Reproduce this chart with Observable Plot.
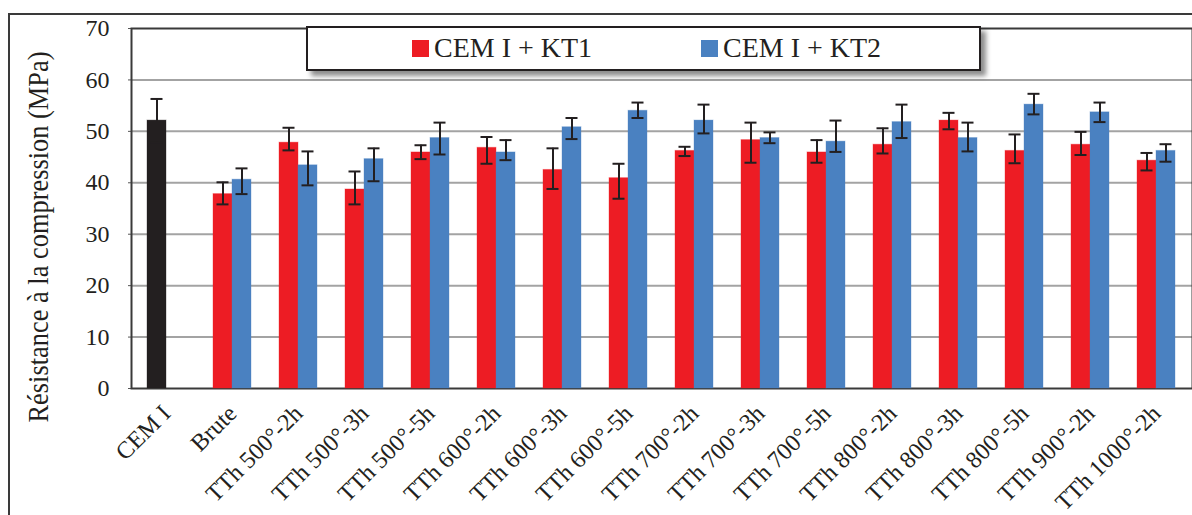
<!DOCTYPE html>
<html>
<head>
<meta charset="utf-8">
<script src="https://cdn.jsdelivr.net/npm/d3@7"></script>
<script src="https://cdn.jsdelivr.net/npm/@observablehq/plot@0.6"></script>
<style>
  html, body { margin: 0; padding: 0; background: #fff; }
  #wrap { position: relative; width: 1192px; height: 515px; overflow: hidden; background: #fff; font-family: "Liberation Serif", "Times New Roman", serif; }
  #outer { position: absolute; left: 8px; top: 13px; width: 1300px; height: 700px; border: 2px solid #3a3a3a; box-sizing: border-box; }
  #base, #chart { position: absolute; left: 0; top: 0; }
  #ytitle { position: absolute; left: 38px; top: 237px; white-space: nowrap; font-size: 30px; color: #231f20;
            transform: translate(-50%, -50%) rotate(-90deg) scale(0.88, 1); transform-origin: 50% 50%; line-height: 1; }
  #legend { position: absolute; left: 306px; top: 26px; width: 675px; height: 45px; box-sizing: border-box;
            border: 2.5px solid #231f20; background: #fff; box-shadow: 5px 5px 5px rgba(0,0,0,0.45);
            font-size: 28px; color: #231f20; }
  .item { position: absolute; top: 0; height: 40px; display: flex; align-items: center; white-space: nowrap; }
  .sw { width: 17px; height: 17px; margin-right: 5px; }
</style>
</head>
<body>
<div id="wrap">
  <div id="outer"></div>
  <div id="base"></div>
  <div id="chart"></div>
  <div id="ytitle"></div>
  <div id="legend"></div>
</div>
<script>
// ---- data ----
const categories = ["CEM I", "Brute", "TTh 500°-2h", "TTh 500°-3h", "TTh 500°-5h", "TTh 600°-2h", "TTh 600°-3h", "TTh 600°-5h",
  "TTh 700°-2h", "TTh 700°-3h", "TTh 700°-5h", "TTh 800°-2h", "TTh 800°-3h", "TTh 800°-5h", "TTh 900°-2h", "TTh 1000°-2h"];
// first slot of series 1 holds the CEM I reference (drawn black)
const kt1 = [52.1, 37.8, 47.8, 38.7, 45.9, 46.8, 42.5, 40.9, 46.2, 48.3, 45.9, 47.4, 52.1, 46.2, 47.4, 44.3];
const kt1Low = [47.9, 35.8, 46.3, 35.8, 44.6, 43.7, 38.8, 36.9, 45.2, 43.9, 43.9, 45.7, 50.4, 43.8, 45.4, 42.4];
const kt1High = [56.3, 40.1, 50.7, 42.2, 47.3, 48.9, 46.7, 43.7, 47.0, 51.7, 48.3, 50.6, 53.6, 49.4, 49.9, 45.8];
const kt2 = [null, 40.6, 43.4, 44.6, 48.7, 45.9, 50.8, 54.0, 52.1, 48.7, 48.0, 51.8, 48.7, 55.2, 53.7, 46.2];
const kt2Low = [null, 37.8, 39.5, 40.3, 45.5, 44.4, 48.5, 52.6, 49.6, 47.7, 46.0, 48.7, 46.1, 53.3, 51.8, 44.1];
const kt2High = [null, 42.8, 46.1, 46.7, 51.7, 48.3, 52.6, 55.6, 55.2, 49.8, 52.1, 55.2, 51.7, 57.3, 55.6, 47.5];
const seriesNames = ["CEM I + KT1", "CEM I + KT2"];
const groupNames = ["CEM I", "KT1", "KT2"];
const groupColors = ["#231f20", "#ed1c24", "#4a81c1"];
const yTicks = [0, 10, 20, 30, 40, 50, 60, 70];
const yTitle = "Résistance à la compression (MPa)";

// ---- table ----
const rows = [];
categories.forEach((c, i) => {
  if (kt1[i] != null) rows.push({cat: c, series: "KT1", group: i === 0 ? "CEM I" : "KT1", value: kt1[i], low: kt1Low[i], high: kt1High[i]});
  if (kt2[i] != null) rows.push({cat: c, series: "KT2", group: "KT2", value: kt2[i], low: kt2Low[i], high: kt2High[i]});
});

const dims = {width: 1192, height: 515, marginLeft: 131, marginRight: 0, marginTop: 28, marginBottom: 127};
const font = {fontFamily: "'Liberation Serif', 'Times New Roman', serif", fontSize: "24px", color: "#231f20", background: "transparent", overflow: "visible"};

// base layer: gridlines, y axis, frame
const base = Plot.plot({
  ...dims,
  style: font,
  x: {domain: categories, axis: null},
  y: {domain: [0, 70], label: null},
  marks: [
    Plot.ruleY(yTicks.slice(1, -1), {stroke: "#a3a3a3", strokeWidth: 2}),
    Plot.axisY(yTicks, {label: null, tickSize: 3, tickPadding: 19, stroke: "#555", fontSize: 24}),
    Plot.frame({stroke: "#3a3a3a", strokeWidth: 2})
  ]
});
document.getElementById("base").appendChild(base);

// bars layer (faceted by category)
const chart = Plot.plot({
  ...dims,
  style: font,
  fx: {domain: categories, paddingInner: 0.42, paddingOuter: 0.21, label: null, tickRotate: -45, tickSize: 0, tickPadding: 21},
  x: {domain: ["KT1", "KT2"], padding: 0, axis: null},
  y: {domain: [0, 70], axis: null},
  color: {domain: groupNames, range: groupColors},
  marks: [
    Plot.barY(rows, {fx: "cat", x: "series", y: "value", fill: "group", stroke: "group", strokeOpacity: 0.35, strokeWidth: 1}),
    Plot.ruleX(rows, {fx: "cat", x: "series", y1: "low", y2: "high", stroke: "#231f20", strokeWidth: 2}),
    Plot.tickY(rows, {fx: "cat", x: "series", y: "low", stroke: "#231f20", strokeWidth: 2, insetLeft: 3.5, insetRight: 3.5}),
    Plot.tickY(rows, {fx: "cat", x: "series", y: "high", stroke: "#231f20", strokeWidth: 2, insetLeft: 3.5, insetRight: 3.5})
  ]
});
document.getElementById("chart").appendChild(chart);

// y title
document.getElementById("ytitle").textContent = yTitle;

// legend
const legend = document.getElementById("legend");
const legendX = [104, 393];
seriesNames.forEach((name, i) => {
  const it = document.createElement("div");
  it.className = "item";
  it.style.left = legendX[i] + "px";
  const sw = document.createElement("div");
  sw.className = "sw";
  sw.style.background = groupColors[i + 1];
  const tx = document.createElement("span");
  tx.textContent = name;
  it.appendChild(sw);
  it.appendChild(tx);
  legend.appendChild(it);
});
</script>
</body>
</html>
